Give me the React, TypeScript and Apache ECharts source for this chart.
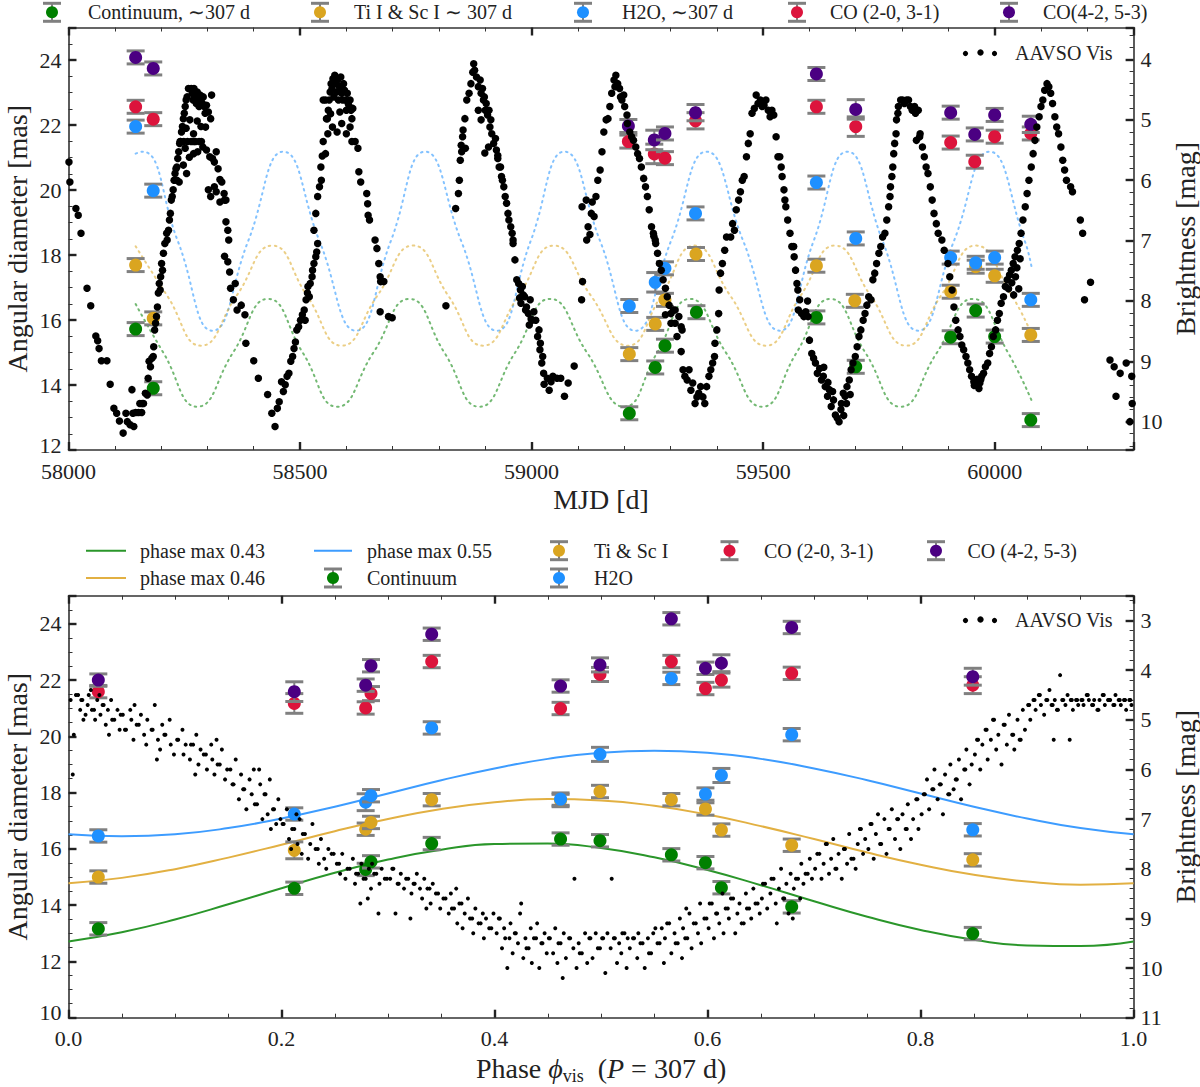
import React, { useEffect, useRef } from 'react';
import * as echarts from 'echarts';

const FONT = '"Liberation Serif", "Times New Roman", serif';

// ---------- colours ----------
const C_GREEN = '#008000';
const C_GOLD = '#DAA520';
const C_BLUE = '#1E90FF';
const C_RED = '#DC143C';
const C_INDIGO = '#4B0082';
const C_GRAY = '#808080';

// ---------- axis ticks ----------
const topXMin = 58000, topXMax = 60300, topXInterval = 500;
const topYMin = 12, topYMax = 25, topYInterval = 2;
const topMagMin = 3.47, topMagMax = 10.47;
const botXMin = 0, botXMax = 1, botXInterval = 0.2;
const botYMin = 10, botYMax = 25, botYInterval = 2;
const botMagMin = 2.5, botMagMax = 11;

// ---------- top panel: diameters vs MJD [mjd, mas, err] ----------
const topContinuum = [[58145,15.72,0.2],[58183,13.90,0.2],[59211,13.13,0.2],[59267,14.54,0.2],[59288,15.21,0.2],[59356,16.24,0.2],[59615,16.08,0.2],[59700,14.56,0.2],[59905,15.47,0.2],[59959,16.29,0.2],[60000,15.49,0.2],[60078,12.92,0.2]];
const topTiSc = [[58145,17.69,0.2],[58183,16.05,0.2],[59211,14.95,0.2],[59267,15.88,0.2],[59288,16.62,0.2],[59355,18.03,0.2],[59615,17.67,0.2],[59698,16.59,0.2],[59905,16.87,0.2],[59959,17.64,0.2],[60000,17.36,0.2],[60078,15.54,0.2]];
const topH2O = [[58145,21.95,0.2],[58183,19.98,0.2],[59211,16.43,0.2],[59267,17.16,0.3],[59288,17.59,0.2],[59354,19.28,0.2],[59615,20.23,0.2],[59700,18.51,0.2],[59905,17.92,0.2],[59959,17.76,0.2],[60000,17.92,0.2],[60078,16.62,0.2]];
const topCO20 = [[58145,22.56,0.2],[58183,22.18,0.2],[59209,21.49,0.2],[59265,21.11,0.3],[59288,20.98,0.2],[59354,22.13,0.25],[59615,22.56,0.2],[59700,21.95,0.3],[59905,21.46,0.2],[59957,20.87,0.2],[60000,21.64,0.2],[60078,21.74,0.2]];
const topCO42 = [[58145,24.08,0.2],[58183,23.74,0.2],[59209,21.97,0.2],[59265,21.54,0.3],[59288,21.74,0.2],[59354,22.38,0.25],[59615,23.57,0.2],[59700,22.48,0.3],[59905,22.38,0.2],[59957,21.71,0.2],[60000,22.31,0.2],[60078,22.02,0.25]];

// ---------- top panel: model curves (key points) ----------
const topModelContinuum = [[58145,16.49],[58205,14.99],[58278,13.33],[58355,14.99],[58431,16.65],[58506,14.99],[58580,13.33],[58658,14.99],[58736,16.65],[58812,14.99],[58887,13.33],[58964,14.99],[59040,16.65],[59120,14.99],[59200,13.33],[59271,14.99],[59342,16.65],[59420,14.99],[59498,13.33],[59572,14.99],[59645,16.65],[59721,14.99],[59797,13.33],[59875,14.99],[59953,16.65],[60029,14.99],[60081,13.48]];
const topModelTiSc = [[58145,18.27],[58213,16.75],[58286,15.21],[58363,16.75],[58440,18.29],[58515,16.75],[58590,15.21],[58667,16.75],[58744,18.29],[58820,16.75],[58895,15.21],[58972,16.75],[59048,18.29],[59128,16.75],[59208,15.21],[59280,16.75],[59352,18.29],[59429,16.75],[59506,15.21],[59581,16.75],[59655,18.29],[59732,16.75],[59809,15.21],[59884,16.75],[59959,18.29],[60037,16.75],[60080,15.55]];
const topModelH2O = [[58145,21.12],[58160,21.18],[58236,18.43],[58311,15.67],[58388,18.43],[58464,21.18],[58542,18.43],[58621,15.67],[58696,18.43],[58770,21.18],[58848,18.43],[58925,15.67],[58998,18.43],[59071,21.18],[59148,18.43],[59224,15.67],[59301,18.43],[59378,21.18],[59457,18.43],[59536,15.67],[59609,18.43],[59682,21.18],[59758,18.43],[59835,15.67],[59912,18.43],[59989,21.18],[60065,18.43],[60080,17.6]];

// ---------- top panel: AAVSO visual light curve [mjd, mag] ----------
const topAavso = [
[58001,5.70],[58003,6.03],[58016,6.47],[58021,6.58],[58027,6.88],[58040,7.79],[58048,8.08],[58059,8.58],[58063,8.66],[58066,8.79],[58071,8.99],[58083,8.99],[58090,9.38],[58098,9.78],[58104,9.86],[58110,9.99],[58118,10.19],[58124,9.86],[58127,10.0],[58133,10.05],[58137,9.47],[58139,9.86],[58141,10.08],[58145,9.85],[58151,9.85],[58154,9.70],[58158,9.85],[58159,9.70],[58162,9.70],[58166,9.53],[58170,9.56],[58172,9.28],[58174,9.0],[58177,9.09],[58180,8.95],[58183,8.92],[58184,8.76],[58186,8.48],[58188,8.37],[58190,8.26],[58192,8.10],[58194,7.87],[58196,7.71],[58198,7.82],[58199,7.6],[58201,7.38],[58203,7.49],[58205,7.21],[58208,7.05],[58212,6.88],
[58213,6.99],[58216,6.83],[58218,6.66],[58220,6.55],[58222,6.33],[58224,6.27],[58226,6.16],[58228,6.0],[58230,5.89],[58232,5.81],[58234,5.78],[58236,5.64],[58238,5.53],[58240,5.39],[58242,5.36],[58244,5.2],[58246,5.11],[58248,4.98],[58250,4.89],[58252,4.78],[58254,4.67],[58256,4.62],[58259,4.48],[58265,4.48],[58267,4.56],[58269,4.67],[58271,4.48],[58273,4.62],[58276,4.73],[58278,4.54],[58280,4.65],[58282,4.78],[58284,4.59],[58286,4.67],[58289,4.73],[58291,4.62],[58293,4.78],[58295,4.89],[58298,4.76],[58302,4.87],[58307,4.98],[58309,4.59],
[58241,5.36],[58249,5.36],[58257,5.36],[58265,5.36],[58270,5.36],[58274,5.36],[58282,5.36],[58287,5.36],[58254,5.14],[58262,5.0],[58270,5.23],[58278,5.02],[58286,5.11],[58296,5.12],[58252,5.47],[58261,5.62],[58270,5.56],[58279,5.53],[58248,5.75],[58255,5.89],[58234,6.0],[58239,6.03],
[58290,5.45],[58298,5.50],[58305,5.61],[58311,5.64],[58315,5.70],[58319,5.53],[58323,5.81],[58327,5.99],[58331,6.03],[58302,6.16],[58307,6.27],[58315,6.11],[58319,6.19],[58336,6.22],[58337,6.33],[58340,6.33],[58327,6.36],[58340,6.69],[58344,6.83],[58346,6.99],
[58337,7.26],[58344,7.35],[58348,7.52],[58350,7.79],[58356,7.98],[58360,7.71],[58364,8.15],[58373,8.07],[58381,8.23],[58383,8.70],[58400,8.99],[58410,9.28],
[58430,9.55],[58439,9.86],[58446,10.08],[58451,9.78],[58455,9.67],[58460,9.34],[58464,9.50],[58468,9.39],[58472,9.25],[58476,9.20],[58480,9.0],
[58484,8.92],[58487,8.79],[58490,8.68],[58493,8.48],[58497,8.43],[58501,8.32],[58505,8.23],[58509,8.15],[58511,8.32],[58513,7.98],[58516,7.87],[58517,7.76],[58520,7.93],[58522,7.71],[58526,7.6],[58527,7.49],[58530,7.38],[58534,7.27],[58536,7.19],[58538,7.05],
[58530,6.83],[58534,6.55],[58538,6.27],[58542,6.11],[58545,5.78],[58546,6.0],[58550,5.36],[58555,5.56],[58548,5.60],
[58550,4.67],[58555,4.67],[58557,4.98],[58559,4.98],[58561,4.84],[58563,4.67],[58565,4.54],[58567,4.40],[58569,4.48],[58571,4.32],[58573,4.62],[58575,4.26],[58577,4.40],[58579,4.54],[58581,4.34],[58583,4.67],[58585,4.45],[58588,4.29],[58590,4.56],[58592,4.67],[58594,4.40],[58596,4.51],[58598,4.67],[58600,4.84],[58602,4.56],[58604,4.73],[58606,4.78],[58608,4.67],[58610,4.84],[58612,4.98],[58614,4.81],
[58560,5.23],[58570,5.12],[58580,5.20],[58590,5.06],[58600,5.23],[58608,5.12],[58566,4.90],[58586,4.87],
[58612,5.36],[58619,5.36],[58625,5.47],[58627,5.86],[58631,6.03],[58644,6.22],[58646,6.39],[58647,6.58],[58650,6.66],
[58662,6.99],[58666,7.13],[58670,7.38],[58673,7.6],[58674,7.68],[58681,7.68],[58673,8.18],[58691,8.26],[58699,8.28],
[58815,8.08],
[58836,6.47],[58842,6.22],[58844,6.0],[58846,5.67],[58848,5.42],[58851,5.28],[58852,5.17],[58856,4.98],[58860,4.67],[58865,4.56],[58869,4.40],[58873,4.21],[58875,4.07],[58877,4.18],[58849,5.53],[58857,5.47],
[58881,4.29],[58885,4.45],[58889,4.34],[58891,4.56],[58894,4.48],[58896,4.67],[58898,4.62],[58900,4.84],[58902,4.73],[58905,4.92],[58908,4.84],[58910,5.12],[58912,5.0],[58914,5.23],[58918,5.39],[58922,5.31],[58924,5.50],[58927,5.64],[58930,5.78],[58933,5.78],[58935,5.94],[58937,6.0],[58940,6.11],[58943,6.27],[58946,6.38],[58949,6.55],[58951,6.66],[58955,6.77],[58958,6.88],[58960,6.99],
[58899,5.55],[58907,5.45],[58927,5.59],[58885,4.84],[58891,5.0],
[58960,7.05],[58964,7.32],[58968,7.65],[58972,7.71],[58976,7.82],[58980,7.76],[58985,7.93],[58977,8.04],[58989,8.10],[58993,8.21],[58997,7.98],[59001,8.32],[59005,8.18],[59009,8.32],[59013,8.59],[59016,8.48],[59018,8.81],[59019,8.70],[59022,9.03],[59024,8.92],[59026,9.20],[59027,9.38],[59034,9.28],[59038,9.48],[59042,9.34],[59046,9.25],[59055,9.28],[59063,9.28],[59071,9.58],[59079,9.36],[59092,9.08],
[58982,7.90],[58987,8.15],[58995,8.40],[58999,8.30],[58974,7.95],
[59108,7.98],[59110,7.68],[59119,6.99],
[59109,6.44],[59118,6.33],[59122,6.77],[59126,6.9],[59129,6.55],[59131,6.36],[59135,6.6],[59139,6.27],[59143,6.0],[59148,5.83],[59152,5.53],[59156,5.20],[59161,5.0],[59165,4.98],[59169,4.78],[59173,4.56],[59178,4.34],[59180,4.45],[59182,4.26],[59186,4.40],[59190,4.48],[59192,4.62],[59195,4.67],[59199,4.59],[59201,4.78],[59206,4.92],[59207,5.06],[59212,5.20],[59216,5.28],[59220,5.34],[59225,5.45],[59229,5.56],[59233,5.64],[59237,5.78],[59242,5.97],[59246,6.11],[59250,6.27],[59254,6.49],[59259,6.77],[59263,6.88],[59267,6.99],
[59264,6.93],[59268,7.05],[59272,7.21],[59276,7.38],[59280,7.49],[59284,7.65],[59289,7.79],[59293,7.93],[59297,8.07],[59301,8.21],[59306,8.15],[59310,8.37],[59314,8.59],[59318,8.26],[59323,8.84],[59325,8.48],[59327,9.14],[59331,9.25],[59336,9.31],[59340,9.14],[59344,9.48],[59348,9.36],[59353,9.70],[59357,9.59],[59361,9.53],[59365,9.42],[59370,9.59],[59374,9.70],[59378,9.42],[59383,9.25],[59387,9.14],[59391,9.03],[59395,8.92],[59396,8.70],[59400,8.48],[59404,8.21],[59405,7.82],[59408,7.54],[59412,7.38],[59417,7.16],[59421,6.94],
[59289,8.23],[59301,8.37],[59310,8.15],[59323,8.43],
[59430,6.94],[59434,6.72],[59438,6.83],[59442,6.49],[59447,6.33],[59451,6.19],[59455,6.0],[59459,5.94],[59464,5.61],[59468,5.39],[59472,5.23],[59476,4.89],[59481,4.81],[59485,4.59],[59489,4.73],[59494,4.67],[59498,4.78],[59502,4.76],[59506,4.67],[59511,4.84],[59515,4.95],[59519,4.84],[59523,4.92],[59528,5.28],[59532,5.61],[59536,5.61],[59539,5.78],[59541,5.94],[59545,6.16],[59547,6.33],[59549,6.44],[59553,6.66],[59558,6.88],[59566,7.1],
[59562,7.10],[59567,7.27],[59570,7.49],[59573,7.71],[59575,7.82],[59576,8.15],[59579,7.98],[59583,8.21],[59588,8.26],[59592,8.18],[59596,8.0],[59597,8.26],[59600,8.65],[59605,8.87],[59609,8.95],[59613,9.03],[59617,9.20],[59622,9.12],[59626,9.31],[59630,9.25],[59631,9.1],[59634,9.42],[59639,9.58],[59640,9.35],[59643,9.47],[59647,9.75],[59650,9.5],[59652,9.64],[59656,9.89],[59660,9.94],[59664,10.0],[59668,9.8],[59669,9.70],[59673,9.53],[59674,9.9],[59677,9.58],[59680,9.7],[59681,9.42],[59686,9.31],[59688,9.55],[59690,9.14],[59694,9.03],[59699,8.92],[59703,8.76],[59707,8.59],[59711,8.48],[59716,8.32],[59720,8.21],[59724,8.07],[59728,7.93],[59733,7.98],[59737,7.65],[59741,7.54],[59745,7.38],[59750,7.21],[59754,7.10],[59758,6.94],
[59763,6.88],[59767,6.66],[59771,6.44],[59774,6.27],[59775,6.11],[59778,5.94],[59780,5.78],[59782,5.56],[59784,5.39],[59787,5.23],[59788,5.0],[59791,4.89],[59792,4.78],[59797,4.67],[59801,4.67],[59805,4.73],[59810,4.67],[59814,4.67],[59818,4.78],[59822,4.84],[59827,4.78],[59829,4.89],[59831,5.34],[59835,4.84],[59838,5.28],[59839,5.23],[59844,5.45],[59848,5.61],[59852,5.78],[59856,5.89],[59861,6.11],[59865,6.33],[59869,6.55],[59874,6.72],[59878,6.88],[59886,6.99],
[59891,7.16],[59899,7.38],[59903,7.6],[59908,7.82],[59912,8.10],[59916,8.32],[59921,8.48],[59925,8.59],[59929,8.73],[59933,8.81],[59938,8.92],[59942,9.03],[59946,9.14],[59950,9.25],[59955,9.34],[59956,9.4],[59959,9.31],[59962,9.3],[59963,9.39],[59966,9.45],[59968,9.36],[59970,9.3],[59972,9.25],[59976,9.2],[59980,9.09],[59985,9.03],[59989,8.87],[59993,8.76],[59997,8.59],[60002,8.48],[60006,8.32],[60010,8.21],[60014,8.04],[60019,7.93],[60023,7.76],[60027,7.65],[60030,7.8],[60032,7.57],[60036,7.49],[60037,7.7],[60040,7.38],[60041,7.9],[60044,7.27],[60045,7.6],[60048,7.45],[60049,7.16],[60052,7.8],[60053,7.05],[60055,7.3],
[60057,6.88],[60061,6.66],[60066,6.44],[60070,6.22],[60074,6.0],[60079,5.78],[60083,5.56],[60087,5.34],[60091,5.12],[60096,4.95],[60100,4.78],[60104,4.67],[60108,4.51],[60113,4.40],[60117,4.45],[60121,4.56],[60125,4.73],[60130,4.95],[60134,5.12],[60138,5.23],[60143,5.45],[60147,5.67],[60151,5.83],[60155,6.0],[60164,6.11],[60168,6.19],[60185,6.66],[60190,6.88],
[60194,7.98],[60207,7.69],
[60249,8.98],[60258,9.09],[60262,9.58],[60271,9.2],[60284,9.03],[60296,9.25],[60297,9.70],[60292,10.0]
];

// ---------- bottom panel: diameters vs phase [phase, mas, err] ----------
const botContinuum = [[0.028,13.16,0.22],[0.212,14.60,0.22],[0.279,15.27,0.22],[0.284,15.54,0.22],[0.341,16.19,0.22],[0.462,16.35,0.22],[0.499,16.29,0.22],[0.566,15.79,0.22],[0.598,15.51,0.22],[0.613,14.62,0.22],[0.679,13.94,0.22],[0.849,12.99,0.22]];
const botTiSc = [[0.028,15.0,0.22],[0.212,15.95,0.3],[0.279,16.70,0.22],[0.284,16.94,0.22],[0.341,17.75,0.22],[0.462,17.72,0.22],[0.499,18.04,0.22],[0.566,17.75,0.22],[0.598,17.42,0.22],[0.613,16.67,0.22],[0.679,16.13,0.22],[0.849,15.61,0.22]];
const botH2O = [[0.028,16.46,0.22],[0.212,17.24,0.22],[0.279,17.66,0.3],[0.284,17.89,0.22],[0.341,20.30,0.22],[0.462,17.77,0.22],[0.499,19.36,0.25],[0.566,22.06,0.22],[0.598,17.95,0.22],[0.613,18.61,0.25],[0.679,20.06,0.22],[0.849,16.68,0.22]];
const botCO20 = [[0.028,21.59,0.22],[0.212,21.17,0.35],[0.279,21.01,0.22],[0.284,21.52,0.25],[0.341,22.66,0.22],[0.462,20.99,0.22],[0.499,22.2,0.25],[0.566,22.66,0.22],[0.598,21.70,0.22],[0.613,22.0,0.25],[0.679,22.24,0.22],[0.849,21.82,0.3]];
const botCO42 = [[0.028,22.0,0.22],[0.212,21.59,0.35],[0.279,21.82,0.22],[0.284,22.51,0.22],[0.341,23.63,0.22],[0.462,21.79,0.22],[0.499,22.54,0.25],[0.566,24.18,0.22],[0.598,22.42,0.22],[0.613,22.6,0.3],[0.679,23.87,0.22],[0.849,22.12,0.3]];

// ---------- bottom panel: fitted curves [phase, mas] ----------
const phaseGrid = [0,0.05,0.1,0.15,0.2,0.25,0.3,0.35,0.4,0.45,0.5,0.55,0.6,0.65,0.7,0.75,0.8,0.85,0.9,0.95,1.0];
const fitContinuum043 = [12.71,13.04,13.49,14.03,14.60,15.15,15.62,15.97,16.17,16.19,16.03,15.70,15.25,14.71,14.14,13.59,13.12,12.77,12.57,12.55,12.71];
const fitTiSc046 = [14.78,14.97,15.28,15.69,16.15,16.63,17.06,17.42,17.66,17.77,17.72,17.53,17.22,16.81,16.35,15.87,15.44,15.08,14.84,14.73,14.78];
const fitH2O055 = [16.52,16.45,16.52,16.74,17.08,17.50,17.97,18.44,18.86,19.20,19.42,19.49,19.42,19.20,18.86,18.44,17.97,17.50,17.08,16.74,16.52];

// ---------- bottom panel: AAVSO folded [phase, mag] ----------
const botAavso = [
[0.002,4.6],[0.004,6.1],[0.005,5.3],[0.007,4.5],[0.009,4.5],[0.011,4.8],[0.012,4.6],[0.013,4.6],[0.016,4.9],[0.018,4.7],[0.019,4.5],[0.022,4.8],[0.024,4.8],[0.025,5.0],[0.027,4.6],[0.03,4.9],[0.032,4.7],[0.033,4.7],[0.035,5.1],[0.037,4.8],[0.04,4.6],[0.041,5.0],[0.043,5.0],[0.046,4.8],[0.048,5.2],[0.049,4.9],[0.021,4.4],[0.038,5.3],[0.014,5.0],[0.029,4.5],
[0.051,4.9],[0.053,5.2],[0.054,5.2],[0.058,4.8],[0.059,5.0],[0.061,5.4],[0.064,5.1],[0.066,5.1],[0.068,4.9],[0.071,5.3],[0.073,5.5],[0.074,5.0],[0.078,5.2],[0.079,5.2],[0.081,4.7],[0.084,5.4],[0.086,5.6],[0.088,5.1],[0.09,5.3],[0.091,5.3],[0.095,5.0],[0.096,5.5],[0.099,5.7],[0.062,4.7],[0.083,5.8],
[0.102,5.4],[0.103,5.4],[0.107,5.2],[0.108,5.7],[0.11,5.5],[0.114,5.8],[0.115,5.5],[0.117,5.5],[0.12,5.3],[0.122,5.9],[0.124,5.6],[0.127,5.7],[0.129,5.7],[0.13,6.0],[0.134,5.5],[0.135,5.8],[0.137,6.1],[0.14,5.9],[0.142,5.9],[0.144,5.6],[0.147,6.2],[0.149,6.0],[0.119,6.1],[0.139,5.4],
[0.152,6.0],[0.154,6.3],[0.155,6.3],[0.157,5.8],[0.16,6.6],[0.162,6.1],[0.164,6.4],[0.165,6.4],[0.167,6.8],[0.17,6.2],[0.172,6.5],[0.174,6.0],[0.175,6.7],[0.177,6.7],[0.18,6.3],[0.182,7.0],[0.184,6.5],[0.185,6.5],[0.187,6.9],[0.189,6.2],[0.192,6.8],[0.193,6.8],[0.195,7.1],[0.197,6.6],[0.199,7.0],[0.179,6.0],[0.19,7.2],
[0.201,7.1],[0.202,7.1],[0.205,6.8],[0.207,7.4],[0.209,7.6],[0.21,7.2],[0.212,7.2],[0.215,7.5],[0.217,7.0],[0.219,7.7],[0.22,7.3],[0.222,7.3],[0.225,7.8],[0.227,7.5],[0.229,7.1],[0.232,7.6],[0.234,7.6],[0.235,7.9],[0.237,7.4],[0.24,7.8],[0.242,8.0],[0.244,7.6],[0.247,7.7],[0.249,7.7],[0.214,6.9],
[0.252,7.9],[0.254,7.9],[0.255,8.1],[0.257,7.7],[0.26,8.2],[0.262,8.0],[0.264,8.0],[0.267,7.8],[0.269,8.3],[0.27,8.1],[0.272,8.1],[0.275,7.9],[0.277,8.2],[0.279,8.2],[0.282,8.0],[0.284,8.4],[0.285,7.9],[0.287,8.1],[0.289,8.1],[0.292,8.3],[0.294,8.0],[0.297,8.2],[0.299,8.2],[0.274,8.7],[0.281,8.6],[0.291,8.9],
[0.302,8.2],[0.304,8.0],[0.305,8.0],[0.309,8.3],[0.31,8.3],[0.312,8.1],[0.315,8.4],[0.317,8.2],[0.319,8.2],[0.322,8.5],[0.324,8.3],[0.325,8.3],[0.327,8.1],[0.33,8.4],[0.332,8.6],[0.334,8.2],[0.337,8.4],[0.339,8.4],[0.34,8.7],[0.342,8.3],[0.345,8.5],[0.347,8.5],[0.349,8.8],[0.307,8.9],[0.321,9.0],[0.336,8.8],
[0.352,8.6],[0.354,8.6],[0.357,8.9],[0.359,8.5],[0.36,8.8],[0.362,8.8],[0.365,9.1],[0.367,8.7],[0.369,8.7],[0.37,9.2],[0.372,8.9],[0.375,8.6],[0.377,9.0],[0.379,9.0],[0.38,9.3],[0.382,8.8],[0.385,9.1],[0.387,9.1],[0.389,8.9],[0.39,9.4],[0.392,9.0],[0.395,9.2],[0.397,9.2],[0.399,8.9],[0.364,8.4],
[0.402,9.3],[0.404,9.0],[0.405,9.0],[0.407,9.6],[0.409,9.2],[0.41,9.4],[0.412,10.0],[0.414,9.4],[0.415,9.1],[0.417,9.7],[0.419,9.3],[0.42,9.3],[0.422,9.5],[0.424,8.9],[0.425,8.7],[0.427,9.8],[0.429,9.4],[0.43,9.6],[0.432,9.6],[0.434,9.2],[0.435,9.9],[0.437,9.4],[0.439,9.4],[0.44,9.1],[0.442,10.0],[0.444,9.5],[0.445,9.5],[0.447,9.3],[0.449,9.7],
[0.451,9.4],[0.452,9.4],[0.455,9.7],[0.457,9.2],[0.459,9.9],[0.46,9.5],[0.462,9.5],[0.464,10.2],[0.465,9.3],[0.467,9.8],[0.47,9.4],[0.471,9.4],[0.474,9.6],[0.475,8.2],[0.477,10.0],[0.479,9.5],[0.48,9.7],[0.482,9.7],[0.485,9.3],[0.487,9.9],[0.489,9.4],[0.49,9.4],[0.492,9.8],[0.495,9.3],[0.497,9.6],[0.499,9.6],
[0.501,9.4],[0.502,9.4],[0.504,10.1],[0.506,9.3],[0.509,9.6],[0.51,8.2],[0.512,9.4],[0.513,9.4],[0.515,9.9],[0.517,9.5],[0.519,9.7],[0.52,9.3],[0.522,9.3],[0.524,10.0],[0.525,9.4],[0.527,9.6],[0.53,9.4],[0.531,9.4],[0.534,9.8],[0.535,9.3],[0.537,9.5],[0.539,9.5],[0.541,10.0],[0.544,9.4],[0.545,9.7],[0.547,9.7],[0.549,9.3],
[0.551,9.2],[0.553,9.5],[0.555,9.5],[0.557,9.2],[0.559,9.9],[0.56,9.4],[0.562,9.1],[0.564,9.1],[0.566,9.7],[0.569,9.3],[0.57,9.5],[0.572,9.5],[0.574,9.0],[0.576,9.8],[0.577,9.2],[0.579,9.4],[0.581,9.4],[0.583,8.9],[0.585,9.6],[0.587,9.1],[0.589,9.1],[0.591,9.3],[0.593,8.7],[0.594,9.5],[0.597,9.0],[0.599,9.0],[0.58,8.8],
[0.601,9.2],[0.602,8.7],[0.604,8.7],[0.606,9.4],[0.608,8.9],[0.609,8.9],[0.611,9.1],[0.614,8.5],[0.615,9.3],[0.617,8.8],[0.619,8.8],[0.62,9.0],[0.622,8.6],[0.624,8.6],[0.626,9.3],[0.628,8.9],[0.63,8.7],[0.632,9.1],[0.634,9.1],[0.636,8.5],[0.637,8.8],[0.639,8.8],[0.641,9.0],[0.643,8.4],[0.645,8.7],[0.647,8.7],[0.649,8.9],
[0.651,8.6],[0.652,8.3],[0.654,8.3],[0.656,8.8],[0.659,8.5],[0.66,8.2],[0.662,8.2],[0.664,8.7],[0.665,9.1],[0.667,8.4],[0.669,8.0],[0.671,8.6],[0.672,8.6],[0.674,8.3],[0.676,8.9],[0.678,8.1],[0.68,9.0],[0.681,8.4],[0.683,8.2],[0.685,8.2],[0.687,8.6],[0.688,7.9],[0.69,8.3],[0.692,8.1],[0.694,8.1],[0.696,7.8],[0.698,8.2],
[0.701,8.0],[0.703,7.7],[0.705,7.7],[0.707,8.2],[0.709,7.9],[0.711,7.5],[0.712,7.5],[0.714,8.1],[0.716,7.8],[0.718,7.4],[0.72,8.0],[0.721,8.0],[0.723,7.7],[0.726,8.2],[0.728,7.6],[0.729,7.6],[0.731,7.9],[0.733,7.3],[0.735,7.8],[0.737,7.8],[0.739,8.0],[0.741,7.5],[0.743,7.2],[0.744,7.2],[0.746,7.7],[0.748,7.4],
[0.751,7.6],[0.753,7.1],[0.754,7.1],[0.756,7.8],[0.758,7.3],[0.76,6.9],[0.762,7.5],[0.763,7.5],[0.766,7.0],[0.768,7.7],[0.77,7.2],[0.771,7.2],[0.773,6.8],[0.776,7.4],[0.778,7.0],[0.779,7.0],[0.781,7.6],[0.783,6.9],[0.786,7.2],[0.787,7.2],[0.788,6.7],[0.791,7.4],[0.793,7.0],[0.796,6.6],[0.797,6.6],[0.798,7.2],
[0.801,6.9],[0.803,6.5],[0.804,6.5],[0.806,6.2],[0.808,6.8],[0.811,6.4],[0.812,6.4],[0.813,6.0],[0.816,6.6],[0.818,6.3],[0.819,6.3],[0.821,6.9],[0.823,6.1],[0.826,6.5],[0.827,6.5],[0.828,5.9],[0.831,6.4],[0.833,6.2],[0.834,6.2],[0.836,5.8],[0.838,6.6],[0.841,6.0],[0.842,6.0],[0.843,5.6],[0.846,6.3],[0.848,5.9],
[0.851,5.7],[0.853,5.4],[0.854,5.4],[0.856,6.0],[0.858,5.5],[0.861,5.2],[0.862,5.2],[0.863,5.8],[0.866,5.4],[0.868,5.0],[0.869,5.0],[0.871,5.6],[0.873,5.3],[0.876,5.9],[0.878,5.1],[0.879,5.1],[0.881,5.5],[0.883,4.9],[0.886,5.3],[0.887,5.3],[0.888,5.6],[0.891,5.0],[0.893,5.4],[0.894,5.4],[0.896,4.8],[0.898,5.2],
[0.901,4.7],[0.902,4.7],[0.903,5.0],[0.906,4.6],[0.907,4.6],[0.908,4.8],[0.911,4.5],[0.912,4.5],[0.913,4.7],[0.916,4.9],[0.918,4.6],[0.919,4.6],[0.921,4.4],[0.923,4.7],[0.924,4.7],[0.925,5.4],[0.926,4.6],[0.928,4.8],[0.929,4.8],[0.931,4.1],[0.933,4.6],[0.934,4.6],[0.936,4.7],[0.938,4.5],[0.94,5.4],[0.941,4.6],[0.942,4.6],[0.943,4.8],[0.946,4.6],[0.947,4.6],[0.948,4.7],
[0.951,4.6],[0.952,4.6],[0.953,4.7],[0.956,4.5],[0.957,4.5],[0.958,4.6],[0.961,4.7],[0.962,4.7],[0.963,4.6],[0.966,4.8],[0.967,4.8],[0.968,4.6],[0.971,4.5],[0.972,4.5],[0.973,4.7],[0.976,4.6],[0.977,4.6],[0.978,4.6],[0.981,4.7],[0.982,4.7],[0.983,4.5],[0.986,4.6],[0.987,4.6],[0.988,4.7],[0.991,4.6],[0.992,4.6],[0.993,4.8],[0.996,4.6],[0.997,4.6],[0.998,4.7]
];

// ---------- legends ----------
const topLegendLabels = ['Continuum, \u223C307 d', 'Ti I & Sc I \u223C 307 d', 'H2O, \u223C307 d', 'CO (2-0, 3-1)', 'CO(4-2, 5-3)'];
const topLegendColors = [C_GREEN, C_GOLD, C_BLUE, C_RED, C_INDIGO];
const botLegendLabels = ['phase max 0.43', 'phase max 0.46', 'phase max 0.55', 'Continuum', 'Ti & Sc I', 'H2O', 'CO (2-0, 3-1)', 'CO (4-2, 5-3)'];
const aavsoLabel = 'AAVSO Vis';

// layout (pixels)
const W = 1200, H = 1087;
const G_LEFT = 68.5, G_RIGHT = 66.4;
const TOP_T = 27.5, TOP_B = 450;
const BOT_T = 595.7, BOT_B = 1017.7;

function errRender(color: string) {
  return (params: any, api: any) => {
    const x = api.value(0), y = api.value(1), e = api.value(2);
    const c = api.coord([x, y]);
    const hi = api.coord([x, y + e]);
    const lo = api.coord([x, y - e]);
    const hw = 9;
    return {
      type: 'group',
      children: [
        { type: 'line', shape: { x1: c[0], y1: hi[1], x2: c[0], y2: lo[1] }, style: { stroke: C_GRAY, lineWidth: 2 } },
        { type: 'line', shape: { x1: c[0] - hw, y1: hi[1], x2: c[0] + hw, y2: hi[1] }, style: { stroke: C_GRAY, lineWidth: 3 } },
        { type: 'line', shape: { x1: c[0] - hw, y1: lo[1], x2: c[0] + hw, y2: lo[1] }, style: { stroke: C_GRAY, lineWidth: 3 } },
        { type: 'circle', shape: { cx: c[0], cy: c[1], r: 6.5 }, style: { fill: color } },
      ],
    };
  };
}

const labelStyle = { fontFamily: FONT, fontSize: 22, color: '#222' };
const lineStyleAxis = { color: '#333', width: 1.6 };
// the lowest left-axis label is lifted a little so it does not collide with the first x label
const liftRich = { lo: { fontFamily: FONT, fontSize: 22, color: '#222', padding: [0, 0, 10, 0] } };

function makeX(gridIndex: number, min: number, max: number, interval: number, position: string, showLabel: boolean, minorSplit: number, fmt?: (v: number) => string) {
  return {
    type: 'value', gridIndex, min, max, interval, position,
    axisLine: { show: true, onZero: false, lineStyle: lineStyleAxis },
    axisTick: { show: true, inside: true, length: 8, lineStyle: { color: '#222', width: 2.4 } },
    minorTick: { show: true, splitNumber: minorSplit, length: 4, lineStyle: { color: '#333', width: 1 } },
    splitLine: { show: false }, minorSplitLine: { show: false },
    axisLabel: { show: showLabel, margin: 10, showMaxLabel: fmt ? true : false, ...labelStyle, formatter: fmt ? fmt : (v: number) => String(v) },
  };
}

function makeY(gridIndex: number, min: number, max: number, position: string, opts: any) {
  return {
    type: 'value', gridIndex, min, max, position,
    axisLine: { show: true, onZero: false, lineStyle: lineStyleAxis },
    axisTick: { show: true, inside: true, length: 8, lineStyle: { color: '#222', width: 2.4 } },
    minorTick: { show: true, splitNumber: opts.minor, length: 4, lineStyle: { color: '#333', width: 1 } },
    splitLine: { show: false }, minorSplitLine: { show: false },
    ...opts.extra,
    axisLabel: { margin: 7, ...labelStyle, ...opts.label },
  };
}

function errIcon(cx: number, cy: number, color: string) {
  return [
    { type: 'line', shape: { x1: cx, y1: cy - 9, x2: cx, y2: cy + 9 }, style: { stroke: C_GRAY, lineWidth: 2 } },
    { type: 'line', shape: { x1: cx - 9, y1: cy - 9, x2: cx + 9, y2: cy - 9 }, style: { stroke: C_GRAY, lineWidth: 3 } },
    { type: 'line', shape: { x1: cx - 9, y1: cy + 9, x2: cx + 9, y2: cy + 9 }, style: { stroke: C_GRAY, lineWidth: 3 } },
    { type: 'circle', shape: { cx, cy, r: 6 }, style: { fill: color } },
  ];
}

function txt(x: number, y: number, text: string, size: number, extra?: any) {
  return {
    type: 'text', x, y,
    style: { text, fontFamily: FONT, fontSize: size, fill: '#222', align: 'left', verticalAlign: 'middle', textAlign: 'left', textVerticalAlign: 'middle', ...(extra || {}) },
  };
}

function aavsoLegend(y: number) {
  return [
    { type: 'circle', shape: { cx: 965.5, cy: y + 0.5, r: 2.6 }, style: { fill: '#000' } },
    { type: 'circle', shape: { cx: 980.5, cy: y - 0.5, r: 3.2 }, style: { fill: '#000' } },
    { type: 'circle', shape: { cx: 994.5, cy: y + 0.5, r: 2.6 }, style: { fill: '#000' } },
    txt(1015, y, aavsoLabel, 20),
  ];
}

function buildOption() {
  const graphic: any[] = [];
  const topIconX = [52, 320, 583, 797, 1009];
  const topTextX = [88, 354, 622, 830, 1043];
  topLegendLabels.forEach((lab, i) => {
    graphic.push(...errIcon(topIconX[i], 12.3, topLegendColors[i]));
    graphic.push(txt(topTextX[i], 12.3, lab, 20));
  });
  const r1 = 550.7, r2 = 578;
  graphic.push({ type: 'line', shape: { x1: 86, y1: r1, x2: 126, y2: r1 }, style: { stroke: '#2a962a', lineWidth: 2 } });
  graphic.push(txt(140, r1, botLegendLabels[0], 20));
  graphic.push({ type: 'line', shape: { x1: 86, y1: r2, x2: 126, y2: r2 }, style: { stroke: '#e2b042', lineWidth: 2 } });
  graphic.push(txt(140, r2, botLegendLabels[1], 20));
  graphic.push({ type: 'line', shape: { x1: 314, y1: r1, x2: 352, y2: r1 }, style: { stroke: '#3d9cff', lineWidth: 2 } });
  graphic.push(txt(367, r1, botLegendLabels[2], 20));
  graphic.push(...errIcon(333, r2, C_GREEN));
  graphic.push(txt(367, r2, botLegendLabels[3], 20));
  graphic.push(...errIcon(559, r1, C_GOLD));
  graphic.push(txt(594, r1, botLegendLabels[4], 20));
  graphic.push(...errIcon(559, r2, C_BLUE));
  graphic.push(txt(594, r2, botLegendLabels[5], 20));
  graphic.push(...errIcon(729.5, r1, C_RED));
  graphic.push(txt(764, r1, botLegendLabels[6], 20));
  graphic.push(...errIcon(936, r1, C_INDIGO));
  graphic.push(txt(967.5, r1, botLegendLabels[7], 20));
  graphic.push(...aavsoLegend(53));
  graphic.push(...aavsoLegend(620));
  const midTop = (TOP_T + TOP_B) / 2, midBot = (BOT_T + BOT_B) / 2;
  const cx = (G_LEFT + (W - G_RIGHT)) / 2;
  const rot = (t: any) => { t.rotation = Math.PI / 2; return t; };
  graphic.push(rot(txt(17, midTop, 'Angular diameter [mas]', 28, { align: 'center', textAlign: 'center' })));
  graphic.push(rot(txt(17, midBot, 'Angular diameter [mas]', 28, { align: 'center', textAlign: 'center' })));
  graphic.push(rot(txt(1185, midTop, 'Brightness [mag]', 28, { align: 'center', textAlign: 'center' })));
  graphic.push(rot(txt(1185, midBot, 'Brightness [mag]', 28, { align: 'center', textAlign: 'center' })));
  graphic.push(txt(cx, 499, 'MJD [d]', 28, { align: 'center', textAlign: 'center' }));
  graphic.push({
    type: 'text', x: cx, y: 1068,
    style: {
      text: '{a|Phase }{i|\u03D5}{s|vis}{a|  (}{i|P}{a| = 307 d)}',
      align: 'center', verticalAlign: 'middle', textAlign: 'center', textVerticalAlign: 'middle',
      fill: '#222', fontFamily: FONT, fontSize: 28,
      rich: {
        a: { fontFamily: FONT, fontSize: 28, fill: '#222', lineHeight: 34 },
        i: { fontFamily: FONT, fontSize: 28, fontStyle: 'italic', fill: '#222', lineHeight: 34 },
        s: { fontFamily: FONT, fontSize: 18, fill: '#222', lineHeight: 34, verticalAlign: 'bottom', padding: [14, 0, 0, 0] },
      },
    },
  });

  const dotted = (color: string) => ({ color, width: 2, type: [1.5, 4.5], cap: 'round', opacity: 0.55 });

  const series: any[] = [
    { type: 'line', xAxisIndex: 0, yAxisIndex: 0, data: topModelH2O, smooth: 0.5, symbol: 'none', lineStyle: dotted(C_BLUE), silent: true, z: 1 },
    { type: 'line', xAxisIndex: 0, yAxisIndex: 0, data: topModelTiSc, smooth: 0.5, symbol: 'none', lineStyle: dotted(C_GOLD), silent: true, z: 1 },
    { type: 'line', xAxisIndex: 0, yAxisIndex: 0, data: topModelContinuum, smooth: 0.5, symbol: 'none', lineStyle: dotted(C_GREEN), silent: true, z: 1 },
    { type: 'line', xAxisIndex: 2, yAxisIndex: 2, data: phaseGrid.map((p, i) => [p, fitH2O055[i]]), smooth: 0.5, symbol: 'none', lineStyle: { color: '#3d9cff', width: 2 }, silent: true, z: 1 },
    { type: 'line', xAxisIndex: 2, yAxisIndex: 2, data: phaseGrid.map((p, i) => [p, fitTiSc046[i]]), smooth: 0.5, symbol: 'none', lineStyle: { color: '#e2b042', width: 2 }, silent: true, z: 1 },
    { type: 'line', xAxisIndex: 2, yAxisIndex: 2, data: phaseGrid.map((p, i) => [p, fitContinuum043[i]]), smooth: 0.5, symbol: 'none', lineStyle: { color: '#2a962a', width: 2 }, silent: true, z: 1 },
  ];
  const errSets: [number, number, any[], string][] = [
    [0, 0, topContinuum, C_GREEN], [0, 0, topTiSc, C_GOLD], [0, 0, topH2O, C_BLUE], [0, 0, topCO20, C_RED], [0, 0, topCO42, C_INDIGO],
    [2, 2, botContinuum, C_GREEN], [2, 2, botTiSc, C_GOLD], [2, 2, botH2O, C_BLUE], [2, 2, botCO20, C_RED], [2, 2, botCO42, C_INDIGO],
  ];
  errSets.forEach(([xi, yi, data, color]) => {
    series.push({ type: 'custom', xAxisIndex: xi, yAxisIndex: yi, data, renderItem: errRender(color), encode: { x: 0, y: 1 }, silent: true, z: 2 });
  });
  series.push({ type: 'scatter', xAxisIndex: 0, yAxisIndex: 1, data: topAavso, symbol: 'circle', symbolSize: 7.5, itemStyle: { color: '#000', opacity: 1 }, silent: true, z: 3 });
  series.push({ type: 'scatter', xAxisIndex: 2, yAxisIndex: 3, data: botAavso, symbol: 'circle', symbolSize: 4, itemStyle: { color: '#000', opacity: 1 }, silent: true, z: 3 });

  return {
    animation: false,
    backgroundColor: '#fff',
    textStyle: { fontFamily: FONT },
    grid: [
      { left: G_LEFT, right: G_RIGHT, top: TOP_T, height: TOP_B - TOP_T, containLabel: false },
      { left: G_LEFT, right: G_RIGHT, top: BOT_T, height: BOT_B - BOT_T, containLabel: false },
    ],
    xAxis: [
      makeX(0, topXMin, topXMax, topXInterval, 'bottom', true, 5),
      makeX(0, topXMin, topXMax, topXInterval, 'top', false, 5),
      makeX(1, botXMin, botXMax, botXInterval, 'bottom', true, 4, (v: number) => v.toFixed(1)),
      makeX(1, botXMin, botXMax, botXInterval, 'top', false, 4),
    ],
    yAxis: [
      makeY(0, topYMin, topYMax, 'left', { minor: 4, extra: { interval: topYInterval }, label: { showMaxLabel: false, rich: liftRich, formatter: (v: number) => (v === topYMin ? '{lo|' + v + '}' : String(v)) } }),
      makeY(0, topMagMin, topMagMax, 'right', { minor: 5, extra: { inverse: true, splitNumber: 7 }, label: { showMinLabel: false, showMaxLabel: false } }),
      makeY(1, botYMin, botYMax, 'left', { minor: 4, extra: { interval: botYInterval }, label: { showMaxLabel: false, rich: liftRich, formatter: (v: number) => (v === botYMin ? '{lo|' + v + '}' : String(v)) } }),
      makeY(1, botMagMin, botMagMax, 'right', { minor: 5, extra: { inverse: true, splitNumber: 8 }, label: { showMinLabel: false, showMaxLabel: true } }),
    ],
    graphic,
    series,
  };
}

export default function App() {
  const ref = useRef<HTMLDivElement>(null);
  useEffect(() => {
    document.body.style.margin = '0';
    if (!ref.current) return;
    const chart = echarts.init(ref.current, undefined, { renderer: 'svg' });
    chart.setOption(buildOption() as any);
    return () => chart.dispose();
  }, []);
  return <div ref={ref} style={{ width: W, height: H, background: '#fff' }} />;
}
